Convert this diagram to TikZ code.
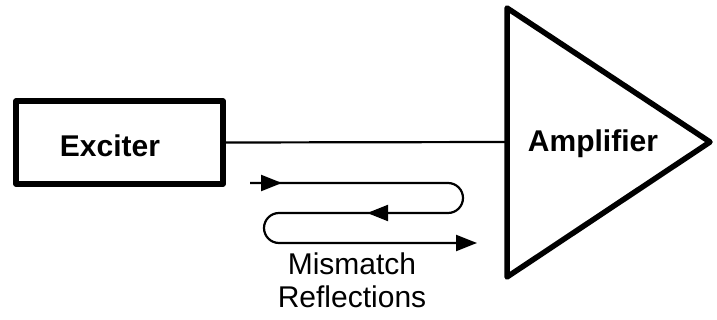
\documentclass[tikz,border=0pt]{standalone}
\usepackage{fontspec}
\setmainfont{Liberation Sans}
\usetikzlibrary{arrows.meta,decorations.markings}
\begin{document}
\begin{tikzpicture}[x=1pt,y=-1pt,
  heavy/.style={line width=5.5pt,line join=round},
  thin/.style={line width=2.2pt},
  lbl/.style={font=\fontsize{30}{32}\selectfont,inner sep=0pt,anchor=base},
  bold/.style={lbl,font=\fontsize{30}{32}\selectfont\bfseries},
  tip/.style={-{Triangle[length=21pt,width=16pt]}}]
\useasboundingbox (0,0) rectangle (717,320);
% Exciter box
\node[heavy,draw,minimum width=207pt,minimum height=83pt,inner sep=0pt] (exc) at (119.5,142.5) {};
\node[bold] (exctext) at (110,157) {Exciter};
% Amplifier triangle
\coordinate (atop) at (507,8);
\coordinate (abot) at (507,277);
\coordinate (atip) at (710,142);
\coordinate (ain) at (507,142);
\draw[heavy] (atop) -- (atip) -- (abot) -- cycle;
\node[bold] (amptext) at (593,152) {Amplifier};
% connection
\draw[thin] (exc.east) -- (ain);
% reflections wave
\coordinate (w0) at (250,183);
\coordinate (w1) at (448,183);
\coordinate (w3) at (279,213);
\coordinate (w5) at (477,243);
\draw[thin,tip,
  decoration={markings,
    mark=at position 32pt with {\arrow{Triangle[length=21pt,width=16pt]}},
    mark=at position 326pt with {\arrow{Triangle[length=21pt,width=16pt]}}},
  postaction={decorate}]
  (w0) -- (w1) arc[start angle=-90,end angle=90,radius=15] -- (w3)
  arc[start angle=-90,end angle=-270,radius=15] -- (w5);
\node[lbl] (mis) at (352,275) {Mismatch};
\node[lbl] (ref) at (352,307) {Reflections};
\end{tikzpicture}
\end{document}
